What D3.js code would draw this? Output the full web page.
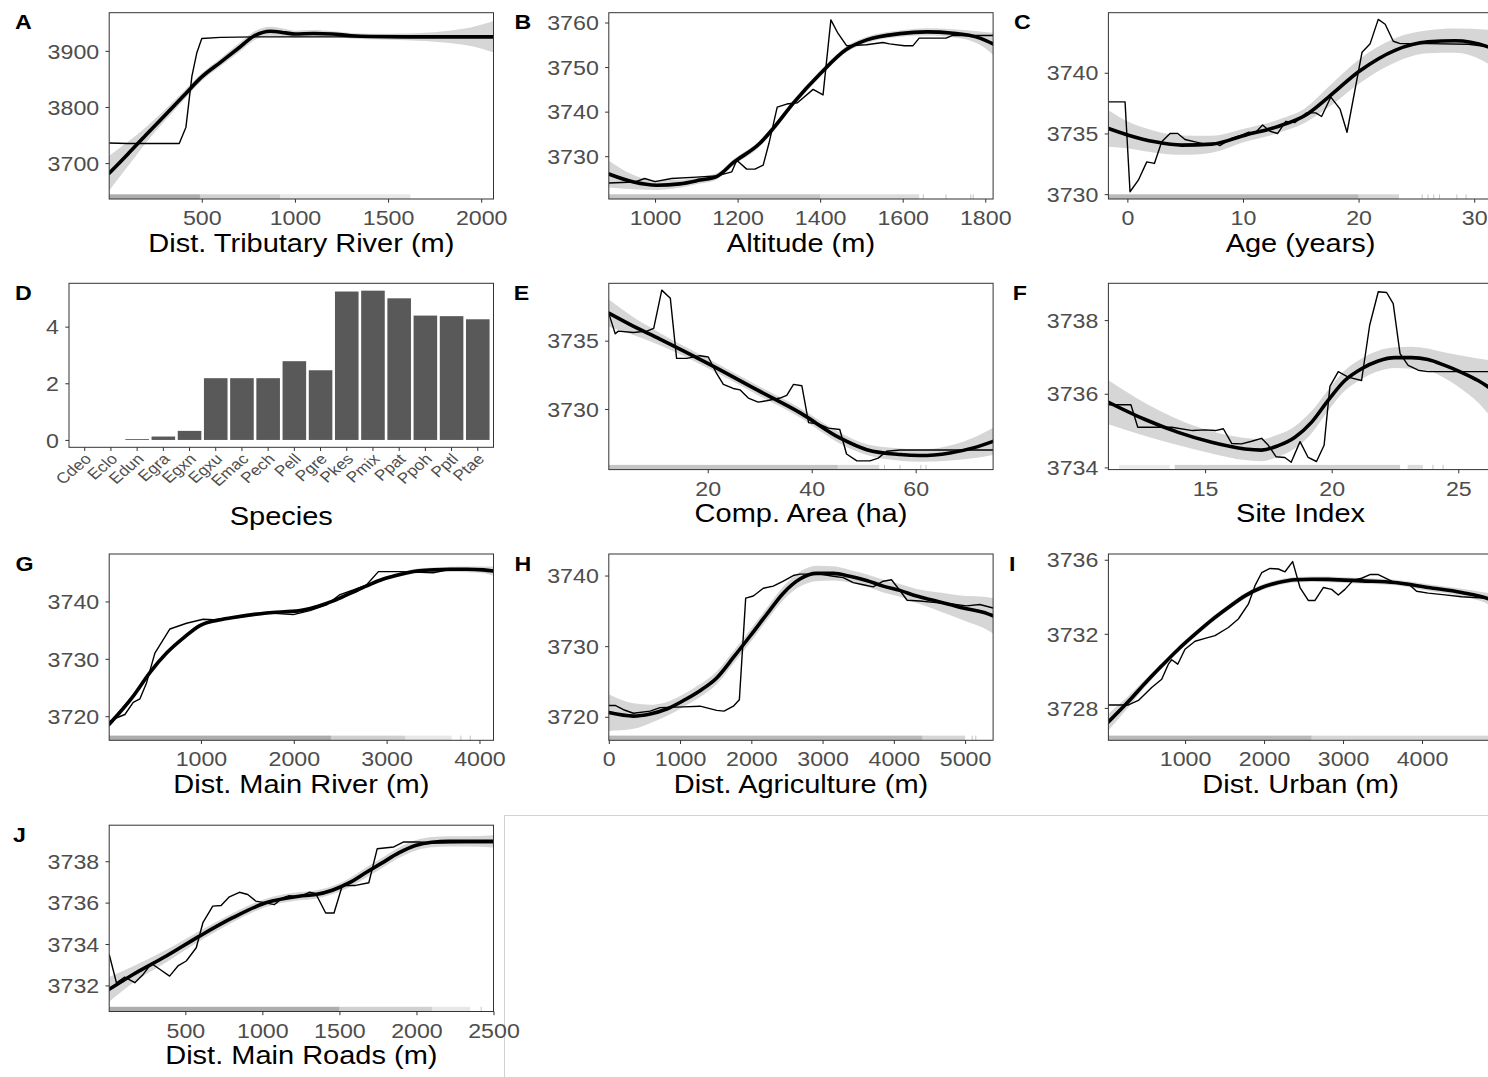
<!DOCTYPE html>
<html>
<head>
<meta charset="utf-8">
<script src="https://cdn.jsdelivr.net/npm/d3@7"></script>
<style>
  body { margin: 0; background: #fff; }
  svg { display: block; }
  text { font-family: "Liberation Sans", Arial, Helvetica, sans-serif; }
</style>
</head>
<body>
<svg id="fig" width="1488" height="1077"></svg>
<script>
// ---------- Partial dependence data ----------
// raw*: partial dependence curve [x, predicted]
// fit*: smoothed trend [x, predicted, half-width of ribbon]
// rugBands*: [from, to, density] spans of observations; rugTicks*: isolated observations

// A: distance to tributary river
const rawA = [[3,3735.7],[100,3735],[200,3735],[300,3735],[379,3735],[415,3764],[447,3855],[473,3896],[500,3922],[600,3924],[800,3925],[1000,3925],[1500,3925],[2066,3925]];
const fitA = [[3,3682,31],[100,3715,22],[200,3750,14],[300,3784.5,10],[400,3819,8],[500,3853.5,7],[600,3879.5,7],[700,3905.5,8],[778,3926,8],[868,3935,8],[950,3932,7],[1000,3930,6],[1100,3931,6],[1200,3930,5],[1300,3927,5],[1400,3925.5,5],[1600,3925,6],[1800,3925,10],[1950,3925,17],[2066,3925,28]];
const rugBandsA = [[3,490,0.7],[490,920,0.4],[920,1620,0.2]];
const rugTicksA = [];

// B: altitude
const rawB = [[888,3724.0],[950,3724.2],[975,3725.0],[1000,3724.3],[1040,3725.0],[1100,3725.3],[1150,3725.6],[1186,3726.5],[1198,3729.1],[1222,3727.1],[1242,3727.1],[1262,3728.0],[1276,3732.9],[1296,3741.0],[1319,3741.7],[1345,3742.0],[1383,3745.0],[1407,3743.75],[1426,3760.6],[1443,3757.6],[1464,3754.8],[1512,3755.0],[1552,3755.5],[1568,3755.2],[1604,3754.8],[1625,3754.8],[1640,3756.5],[1705,3756.5],[1721,3757.1],[1819,3757.1]];
const fitB = [[888,3726.0,3],[948,3724.2,1.6],[1004,3723.5,1.1],[1060,3723.8,0.9],[1109,3724.65,0.8],[1150,3725.5,0.7],[1190,3728.6,0.7],[1254,3732.9,0.7],[1287,3736.3,0.7],[1335,3741.9,0.7],[1400,3748.5,0.7],[1464,3754.0,0.7],[1513,3756.1,0.7],[1593,3757.5,0.7],[1658,3757.9,0.8],[1722,3757.6,0.9],[1787,3756.5,1.5],[1819,3755.2,2.5]];
const rugBandsB = [[888,1400,0.5],[1400,1640,0.3]];
const rugTicksB = [1650,1705,1765,1771];

// C: age
const rawC = [[-1.64,3737.6],[-0.2,3737.6],[0.23,3730.2],[0.95,3731.15],[1.68,3732.66],[2.34,3732.53],[2.97,3734.31],[3.69,3735.0],[4.36,3735.0],[4.99,3734.5],[5.86,3734.31],[6.72,3734.12],[7.59,3734.18],[8.0,3734.0],[9.0,3734.6],[10.0,3734.9],[10.5,3735.1],[11.0,3735.0],[11.7,3735.7],[12.3,3735.2],[13.0,3735.0],[13.7,3736.0],[14.5,3735.9],[15.5,3736.7],[16.3,3736.7],[16.8,3736.4],[17.6,3738.0],[18.4,3737.0],[19.0,3735.1],[20.3,3741.7],[21.0,3742.4],[21.7,3744.4],[22.3,3744.0],[23.0,3742.6],[23.6,3742.4],[26.0,3742.4],[29.5,3742.35],[31.6,3742.1]];
const fitC = [[-1.64,3735.41,1.5],[0.09,3734.86,1.1],[2.4,3734.31,0.9],[4.7,3734.04,0.8],[7.3,3734.12,0.7],[10.2,3734.86,0.55],[13.1,3735.6,0.55],[15.4,3736.5,0.6],[17.4,3738.0,0.85],[20.0,3740.08,1.0],[23.2,3741.87,1.0],[26.0,3742.55,0.95],[28.35,3742.64,1.0],[31.2,3742.14,1.4],[31.6,3742.0,1.5]];
const rugBandsC = [[-1.64,20,0.6],[20,23.5,0.35]];
const rugTicksC = [25.5,26,26.5,27,28.5,29.3];

// D: species importance
const species = ["Cdeo","Eclo","Edun","Egra","Egxn","Egxu","Emac","Pech","Pell","Pgre","Pkes","Pmix","Ppat","Ppoh","Pptl","Ptae"];
const speciesValue = [0,0,0.03,0.12,0.32,2.18,2.18,2.18,2.78,2.46,5.24,5.27,5.0,4.39,4.37,4.26];

// E: compartment area
const rawE = [[0.96,3737.0],[2.2,3735.5],[2.8,3735.7],[5.7,3735.6],[8.3,3735.7],[9.6,3735.9],[11.15,3738.7],[12.8,3738.1],[14.0,3733.7],[15.96,3733.7],[18.5,3733.9],[20.1,3733.8],[21.7,3732.6],[23.0,3731.8],[24.9,3731.5],[26.2,3731.4],[27.8,3730.8],[29.7,3730.5],[31.3,3730.6],[33.9,3730.8],[35.2,3731.0],[36.5,3731.8],[38.1,3731.7],[39.4,3729.0],[41.3,3728.9],[43.2,3728.6],[45.4,3728.5],[46.7,3726.7],[48.7,3726.2],[51.2,3726.2],[52.8,3726.4],[54.4,3726.9],[57.0,3727.0],[74.9,3727.0]];
const fitE = [[0.96,3737.02,1.0],[5.0,3736.2,0.7],[10.8,3735.12,0.45],[21.1,3733.12,0.35],[29.4,3731.41,0.35],[37.8,3729.71,0.35],[45.4,3727.88,0.4],[50.6,3727.02,0.4],[57.0,3726.66,0.45],[60.8,3726.59,0.45],[66.6,3726.78,0.55],[71.1,3727.15,0.75],[74.9,3727.63,1.0]];
const rugBandsE = [[0.96,45,0.5],[45,53,0.3]];
const rugTicksE = [54,57,61,62];

// F: site index
const rawF = [[11.18,3735.7],[12.07,3735.7],[12.34,3735.09],[13.68,3735.09],[14.5,3735.0],[15.0,3735.02],[15.4,3735.0],[15.72,3735.05],[16.05,3734.65],[16.44,3734.64],[16.84,3734.71],[17.23,3734.79],[17.5,3734.6],[17.8,3734.29],[18.15,3734.27],[18.4,3734.14],[18.75,3734.7],[19.07,3734.27],[19.4,3734.16],[19.7,3734.6],[19.93,3736.2],[20.26,3736.6],[20.65,3736.45],[21.18,3736.36],[21.5,3737.86],[21.84,3738.77],[22.17,3738.75],[22.43,3738.45],[22.7,3737.09],[23.02,3736.77],[23.42,3736.64],[23.8,3736.6],[26.37,3736.6]];
const fitF = [[11.18,3735.77,0.6],[12.63,3735.3,0.45],[13.94,3734.95,0.35],[15.26,3734.68,0.3],[16.57,3734.5,0.3],[17.23,3734.47,0.3],[17.89,3734.59,0.3],[18.55,3734.82,0.3],[19.21,3735.23,0.3],[19.86,3735.82,0.28],[20.52,3736.36,0.28],[21.18,3736.68,0.28],[21.84,3736.89,0.28],[22.5,3736.98,0.28],[23.15,3736.98,0.3],[23.8,3736.93,0.3],[24.47,3736.77,0.35],[25.1,3736.59,0.45],[25.78,3736.36,0.6],[26.37,3736.1,0.8]];
const rugBandsF = [[11.6,13.6,0.18],[13.8,22.7,0.4],[23.0,23.6,0.3]];
const rugTicksF = [24.0,24.4];

// G: distance to main river
const rawG = [[12,3719.0],[73,3719.6],[181,3720.3],[271,3722.4],[342,3723.0],[414,3725.8],[504,3731.0],[666,3735.2],[845,3736.2],[1025,3736.9],[1133,3736.8],[1348,3737.1],[1707,3738.0],[1995,3737.7],[2174,3738.4],[2354,3739.4],[2498,3741.2],[2641,3742.0],[2785,3742.9],[2911,3745.2],[3144,3745.2],[3503,3745.0],[3683,3745.6],[3863,3745.6],[4151,3745.3]];
const fitG = [[12,3718.6,0.5],[271,3723.5,0.35],[450,3727.6,0.3],[630,3731.0,0.3],[809,3733.6,0.3],[989,3735.8,0.3],[1169,3736.7,0.3],[1348,3737.2,0.3],[1707,3738.0,0.3],[2067,3738.4,0.3],[2246,3739.1,0.3],[2426,3740.1,0.3],[2606,3741.4,0.3],[2785,3742.7,0.3],[2965,3743.9,0.3],[3144,3744.7,0.35],[3324,3745.3,0.4],[3503,3745.5,0.4],[3683,3745.6,0.45],[3863,3745.6,0.5],[4042,3745.5,0.6],[4151,3745.3,0.8]];
const rugBandsG = [[12,2400,0.7],[2400,3200,0.4],[3200,3700,0.2]];
const rugTicksG = [3800,3900];

// H: distance to agriculture
const rawH = [[0,3721.6],[89,3721.6],[206,3721.0],[346,3720.5],[579,3720.8],[720,3721.3],[1047,3721.4],[1280,3721.5],[1514,3720.9],[1617,3720.8],[1748,3721.5],[1832,3722.4],[1921,3736.8],[2028,3737.1],[2168,3738.2],[2308,3738.5],[2449,3739.2],[2589,3740.0],[2682,3740.2],[2963,3740.2],[3150,3739.9],[3290,3739.7],[3430,3739.0],[3570,3738.7],[3710,3738.4],[3851,3739.2],[3967,3739.4],[4061,3738.2],[4187,3736.5],[4365,3736.4],[4552,3736.2],[4785,3736.0],[5019,3735.7],[5206,3735.9],[5393,3735.4]];
const fitH = [[0,3720.6,2.6],[346,3720.1,1.8],[579,3720.4,1.3],[813,3721.1,1.0],[1047,3722.3,0.9],[1280,3723.7,0.9],[1514,3725.5,0.9],[1748,3728.4,0.9],[1981,3731.4,0.9],[2215,3734.5,0.9],[2449,3737.5,0.95],[2682,3739.5,1.05],[2916,3740.3,1.1],[3150,3740.3,1.0],[3383,3739.9,0.9],[3617,3739.3,0.9],[3851,3738.5,0.9],[4084,3737.9,0.9],[4318,3737.1,1.0],[4552,3736.5,1.2],[4785,3735.9,1.5],[5019,3735.3,1.8],[5253,3734.8,2.2],[5393,3734.3,2.5]];
const rugBandsH = [[0,4400,0.6],[4400,5000,0.35]];
const rugTicksH = [5100,5150];

// I: distance to urban area
const rawI = [[29,3728.16],[282,3728.16],[409,3728.4],[577,3729.1],[704,3729.55],[788,3730.36],[831,3730.6],[907,3730.36],[999,3731.17],[1126,3731.6],[1252,3731.75],[1379,3731.9],[1548,3732.34],[1674,3732.8],[1801,3733.6],[1885,3734.6],[1970,3735.3],[2075,3735.53],[2181,3735.5],[2265,3735.35],[2362,3735.9],[2455,3734.5],[2560,3733.8],[2645,3733.8],[2750,3734.5],[2856,3734.4],[2940,3734.1],[3024,3734.4],[3130,3734.9],[3235,3735.0],[3341,3735.2],[3446,3735.2],[3636,3734.8],[3826,3734.7],[3931,3734.3],[4079,3734.2],[4290,3734.1],[4501,3734.0],[4895,3733.9]];
const fitI = [[29,3727.24,0.45],[282,3728.34,0.3],[493,3729.33,0.2],[704,3730.27,0.15],[915,3731.17,0.15],[1126,3731.98,0.15],[1336,3732.74,0.15],[1547,3733.42,0.15],[1758,3734.05,0.15],[1970,3734.5,0.15],[2181,3734.77,0.15],[2392,3734.92,0.15],[2603,3734.95,0.15],[2814,3734.94,0.15],[3235,3734.86,0.15],[3657,3734.77,0.15],[4079,3734.5,0.18],[4501,3734.23,0.2],[4834,3733.9,0.3],[4895,3733.8,0.35]];
const rugBandsI = [[29,2600,0.6],[2600,4895,0.35]];
const rugTicksI = [];

// J: distance to main roads
const rawJ = [[6,3733.5],[53,3732.13],[107,3732.4],[172,3732.13],[226,3732.53],[280,3733.06],[334,3732.78],[398,3732.45],[452,3732.94],[506,3733.18],[571,3733.82],[614,3735.03],[678,3735.83],[732,3735.86],[786,3736.28],[851,3736.5],[905,3736.39],[958,3736.07],[1023,3735.99],[1077,3735.9],[1131,3736.23],[1174,3736.34],[1239,3736.28],[1304,3736.5],[1346,3736.44],[1411,3735.5],[1465,3735.5],[1519,3736.83],[1605,3736.83],[1691,3736.96],[1745,3738.6],[1853,3738.69],[1917,3738.93],[2014,3738.93],[2100,3738.88],[2316,3738.9],[2500,3738.9]];
const fitJ = [[6,3731.81,0.6],[161,3732.53,0.4],[377,3733.42,0.3],[592,3734.38,0.25],[808,3735.27,0.22],[1023,3735.99,0.2],[1239,3736.31,0.2],[1346,3736.39,0.2],[1454,3736.6,0.2],[1562,3736.95,0.22],[1670,3737.44,0.25],[1777,3737.92,0.25],[1885,3738.4,0.25],[1993,3738.76,0.25],[2100,3738.92,0.25],[2208,3738.96,0.25],[2316,3738.96,0.25],[2500,3738.96,0.3]];
const rugBandsJ = [[6,1500,0.7],[1500,2100,0.4],[2100,2350,0.2]];
const rugTicksJ = [2420];

// ---------- Panel set-up ----------
const panels = [
  {tag:"A", col:0, row:0, title:"Dist. Tributary River (m)", raw:rawA, fit:fitA, rugBands:rugBandsA, rugTicks:rugTicksA, xDom:[3,2066], yDom:[3636,3968], xTicks:[500,1000,1500,2000], yTicks:[3700,3800,3900]},
  {tag:"B", col:1, row:0, title:"Altitude (m)", raw:rawB, fit:fitB, rugBands:rugBandsB, rugTicks:rugTicksB, xDom:[888,1819], yDom:[3720.4,3762.2], xTicks:[1000,1200,1400,1600,1800], yTicks:[3730,3740,3750,3760]},
  {tag:"C", col:2, row:0, title:"Age (years)", raw:rawC, fit:fitC, rugBands:rugBandsC, rugTicks:rugTicksC, xDom:[-1.64,31.6], yDom:[3729.6,3744.95], xTicks:[0,10,20,30], yTicks:[3730,3735,3740]},
  {tag:"E", col:1, row:1, title:"Comp. Area (ha)", raw:rawE, fit:fitE, rugBands:rugBandsE, rugTicks:rugTicksE, xDom:[0.96,74.9], yDom:[3725.56,3739.2], xTicks:[20,40,60], yTicks:[3730,3735]},
  {tag:"F", col:2, row:1, title:"Site Index", raw:rawF, fit:fitF, rugBands:rugBandsF, rugTicks:rugTicksF, xDom:[11.18,26.36], yDom:[3733.94,3739.0], xTicks:[15,20,25], yTicks:[3734,3736,3738]},
  {tag:"G", col:0, row:2, title:"Dist. Main River (m)", raw:rawG, fit:fitG, rugBands:rugBandsG, rugTicks:rugTicksG, xDom:[12,4151], yDom:[3715.8,3748.27], xTicks:[1000,2000,3000,4000], yTicks:[3720,3730,3740]},
  {tag:"H", col:1, row:2, title:"Dist. Agriculture (m)", raw:rawH, fit:fitH, rugBands:rugBandsH, rugTicks:rugTicksH, xDom:[0,5393], yDom:[3716.67,3743.05], xTicks:[0,1000,2000,3000,4000,5000], yTicks:[3720,3730,3740]},
  {tag:"I", col:2, row:2, title:"Dist. Urban (m)", raw:rawI, fit:fitI, rugBands:rugBandsI, rugTicks:rugTicksI, xDom:[29,4895], yDom:[3726.25,3736.31], xTicks:[1000,2000,3000,4000], yTicks:[3728,3732,3736]},
  {tag:"J", col:0, row:3, title:"Dist. Main Roads (m)", raw:rawJ, fit:fitJ, rugBands:rugBandsJ, rugTicks:rugTicksJ, xDom:[6,2500], yDom:[3730.74,3739.74], xTicks:[500,1000,1500,2000,2500], yTicks:[3732,3734,3736,3738]}
];

const colX = [0, 499.6, 999.2];
const rowY = [0, 270.6, 541.3, 812.5];
const TICK = 3.7;
const INK = "#333333";
const TICK_TEXT = "#4d4d4d";
const WIDEN = 1.16;          // horizontal stretch of the lettering
const FONT = "'Liberation Sans', Arial, Helvetica, sans-serif";

const svg = d3.select("#fig");
svg.append("rect").attr("width", 1488).attr("height", 1077).attr("fill", "#fff");

// empty grid cell frame in the lower right
svg.append("rect")
  .attr("x", 504.5).attr("y", 815.5).attr("width", 1100).attr("height", 400)
  .attr("fill", "none").attr("stroke", "#d2d2d2").attr("stroke-width", 1);

// text placed at (x, y) and widened around that point
function wideText(x, y) {
  return svg.append("text")
    .attr("transform", `translate(${x},${y}) scale(${WIDEN},1)`)
    .attr("x", 0).attr("y", 0);
}

function panelLetter(tag, col, row) {
  const probe = svg.append("text").attr("font-size", 20).attr("font-weight", "bold").text(tag);
  const w = probe.node().getComputedTextLength() * WIDEN;
  probe.remove();
  wideText(colX[col] + 6.5 + 0.5 * w, rowY[row] + 29.3)
    .attr("font-size", 20).attr("font-weight", "bold").attr("fill", "#000")
    .text(tag);
}

function styleAxis(g) {
  g.select(".domain").remove();
  g.selectAll(".tick line").attr("stroke", INK).attr("stroke-width", 1);
  g.selectAll(".tick text").attr("fill", TICK_TEXT).attr("font-size", 20).attr("font-family", FONT);
}

function bottomAxis(scale, B, ticks, fmt) {
  const ax = svg.append("g").attr("transform", `translate(0,${B})`)
    .call(d3.axisBottom(scale).tickValues(ticks).tickSize(TICK).tickFormat(fmt));
  styleAxis(ax);
  ax.selectAll(".tick text")
    .attr("y", 0).attr("dy", 0)
    .attr("transform", `translate(0,${26}) scale(${WIDEN},1)`);
  return ax;
}

function leftAxis(scale, L, ticks) {
  const ay = svg.append("g").attr("transform", `translate(${L},0)`)
    .call(d3.axisLeft(scale).tickValues(ticks).tickSize(TICK).tickFormat(d3.format("d")));
  styleAxis(ay);
  ay.selectAll(".tick text")
    .attr("x", 0).attr("dy", "0.36em")
    .attr("transform", `translate(${-(TICK + 6.3)},0) scale(${WIDEN},1)`);
  return ay;
}

function axisTitle(text, cx, y) {
  wideText(cx, y).attr("text-anchor", "middle").attr("font-size", 25).attr("fill", "#000").text(text);
}

function drawCurvePanel(p, idx) {
  const L = colX[p.col] + 109.2, R = colX[p.col] + 493.5;
  const T = rowY[p.row] + 12.7, B = rowY[p.row] + 199;
  const x = d3.scaleLinear().domain(p.xDom).range([L, R]);
  const y = d3.scaleLinear().domain(p.yDom).range([B, T]);

  const clipId = "clip" + idx;
  svg.append("clipPath").attr("id", clipId)
    .append("rect").attr("x", L).attr("y", T).attr("width", R - L).attr("height", B - T);
  const g = svg.append("g").attr("clip-path", `url(#${clipId})`);

  // confidence ribbon
  const band = d3.area()
    .x(d => x(d[0])).y0(d => y(d[1] - d[2])).y1(d => y(d[1] + d[2]))
    .curve(d3.curveMonotoneX);
  g.append("path").datum(p.fit).attr("d", band).attr("fill", "#d6d6d6");

  // rug of observations
  const rugH = 4.7;
  g.selectAll(".rugband").data(p.rugBands).join("rect")
    .attr("x", d => x(d[0])).attr("width", d => x(d[1]) - x(d[0]))
    .attr("y", B - rugH).attr("height", rugH)
    .attr("fill", "#8a8a8a").attr("fill-opacity", d => d[2]);
  g.selectAll(".rugtick").data(p.rugTicks).join("line")
    .attr("x1", d => x(d)).attr("x2", d => x(d))
    .attr("y1", B - rugH).attr("y2", B)
    .attr("stroke", "#8a8a8a").attr("stroke-opacity", 0.5).attr("stroke-width", 1);

  // raw partial dependence
  const lineRaw = d3.line().x(d => x(d[0])).y(d => y(d[1]));
  g.append("path").datum(p.raw).attr("d", lineRaw)
    .attr("fill", "none").attr("stroke", "#000").attr("stroke-width", 1.4)
    .attr("stroke-linejoin", "round");

  // smoothed trend
  const lineFit = d3.line().x(d => x(d[0])).y(d => y(d[1])).curve(d3.curveMonotoneX);
  g.append("path").datum(p.fit).attr("d", lineFit)
    .attr("fill", "none").attr("stroke", "#000").attr("stroke-width", 3.6)
    .attr("stroke-linejoin", "round").attr("stroke-linecap", "round");

  // frame
  svg.append("rect").attr("x", L).attr("y", T).attr("width", R - L).attr("height", B - T)
    .attr("fill", "none").attr("stroke", INK).attr("stroke-width", 1);

  bottomAxis(x, B, p.xTicks, d3.format("d"));
  leftAxis(y, L, p.yTicks);
  axisTitle(p.title, (L + R) / 2, B + 52.5);
  panelLetter(p.tag, p.col, p.row);
}

function drawSpeciesPanel() {
  const col = 0, row = 1;
  const L = colX[col] + 69, R = colX[col] + 493.5;
  const T = rowY[row] + 12.7, B = rowY[row] + 176.7;
  const x = d3.scaleBand().domain(species).range([L, R]).paddingInner(0.1).paddingOuter(0.15);
  const y = d3.scaleLinear().domain([-0.26, 5.53]).range([B, T]);

  svg.selectAll(".bar").data(species.map((s, i) => ({s, v: speciesValue[i]}))).join("rect")
    .attr("x", d => x(d.s)).attr("width", x.bandwidth())
    .attr("y", d => y(d.v)).attr("height", d => y(0) - y(d.v))
    .attr("fill", "#595959");

  svg.append("rect").attr("x", L).attr("y", T).attr("width", R - L).attr("height", B - T)
    .attr("fill", "none").attr("stroke", INK).attr("stroke-width", 1);

  const ax = svg.append("g").attr("transform", `translate(0,${B})`)
    .call(d3.axisBottom(x).tickSize(TICK));
  styleAxis(ax);
  ax.selectAll(".tick text")
    .attr("font-size", 15).attr("text-anchor", "end")
    .attr("x", 0).attr("y", 0).attr("dy", "0.7em")
    .attr("transform", `translate(-1,${TICK + 1.5}) scale(${WIDEN},1) rotate(-45)`);

  leftAxis(y, L, [0, 2, 4]);
  axisTitle("Species", (L + R) / 2, rowY[row] + 254.5);
  panelLetter("D", col, row);
}

panels.forEach((p, i) => drawCurvePanel(p, i));
drawSpeciesPanel();
</script>
</body>
</html>
